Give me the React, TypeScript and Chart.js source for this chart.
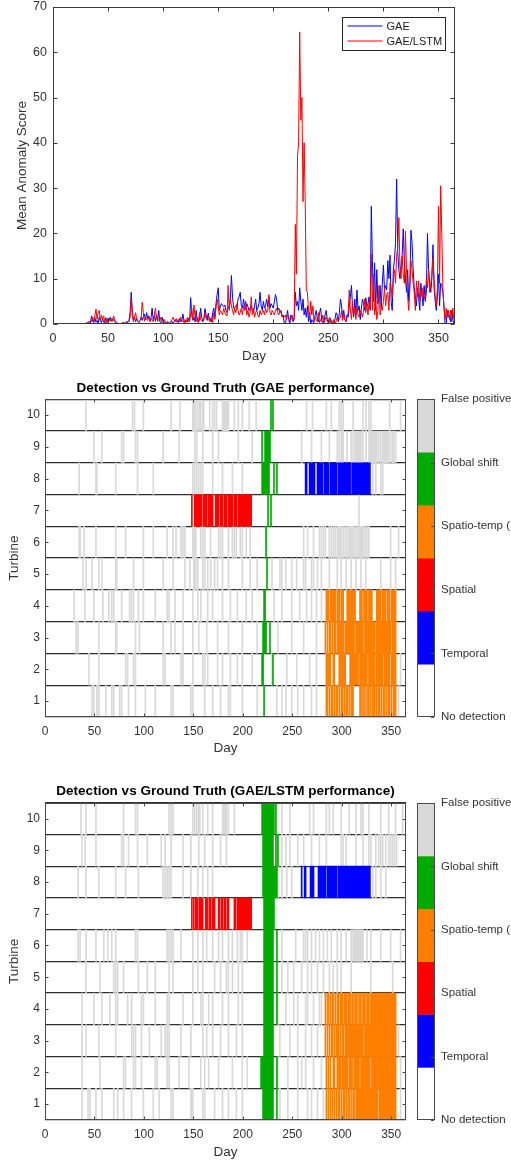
import React, { useEffect, useRef } from 'react';
import { Chart, registerables } from 'chart.js';

Chart.register(...registerables);

const FONT = '"Liberation Sans", Arial, Helvetica, sans-serif';
const TEXT = '#333333';
const FRAME = '#4a4a4a';

// ---------------- Top chart data ----------------
const scoreStartDay = 30;
const dayTicks = [0, 50, 100, 150, 200, 250, 300, 350];
const scoreTicks = [0, 10, 20, 30, 40, 50, 60, 70];
const seriesLabels = ['GAE', 'GAE/LSTM'];

const gaeScores = [
  0.3, 0.2, 0.4, 0.3, 0.2, 1.8, 0.6, 0.3, 1.4, 0.4,
  0.8, 0.2, 1.5, 0.6, 0.3, 1.2, 0.4, 0.2, 1.4, 0.3,
  1.3, 0.8, 1.5, 0.6, 1.2, 0.9, 0.5, 0.3, 0.2, 0.1,
  0, 0, 0.1, 0.2, 0.3, 0.2, 0.4, 0.5, 0.3, 0.8,
  2.5, 7.0, 3.2, 0.8, 1.5, 0.5, 1.2, 0.6, 0.4, 0.8,
  1.5, 0.8, 1.6, 2.2, 0.9, 2.5, 1.2, 1.8, 0.6, 1.4,
  3.5, 0.9, 1.8, 0.6, 2.0, 0.8, 3.0, 0.5, 0.3, 1.5,
  0.6, 0.4, 0.3, 0.2, 0.5, 0.3, 0.1, 0.4, 0.6, 0.2,
  0.5, 1.0, 0.4, 0.8, 0.3, 1.2, 0.5, 0.8, 2.2, 0.6,
  0.3, 0.8, 0.4, 1.3, 0.5, 5.8, 2.0, 0.8, 1.5, 0.5,
  3.0, 0.6, 0.4, 0.8, 3.5, 1.5, 0.5, 1.2, 3.4, 2.0,
  0.8, 2.4, 0.6, 1.2, 0.5, 2.5, 3.5, 1.5, 4.5, 6.5,
  8.0, 3.0, 4.0, 4.5, 4.0, 3.8, 4.2, 3.0, 2.5, 3.5,
  4.0, 5.5, 10.7, 6.0, 3.5, 3.8, 4.0, 3.5, 5.5, 6.0,
  7.0, 4.0, 3.5, 5.5, 4.0, 3.2, 4.5, 3.8, 3.0, 3.5,
  4.0, 3.0, 2.5, 4.0, 5.5, 3.0, 3.5, 4.5, 7.0, 4.0,
  3.0, 5.0, 3.5, 4.0, 5.5, 3.8, 6.0, 3.5, 4.5, 4.0,
  3.5, 5.0, 6.5, 5.5, 3.0, 3.5, 2.5, 3.0, 1.5, 2.0,
  0.0, 0.0, 1.5, 3.0, 1.0, 0.0, 2.0, 1.2, 0.5, 1.0,
  7.0, 4.0, 5.0, 3.0, 8.0, 5.0, 3.0, 5.5, 2.0, 3.5,
  1.5, 4.0, 0.5, 2.5, 0.0, 1.0, 0.5, 0.3, 2.0, 3.0,
  1.2, 0.5, 2.5, 3.5, 0.8, 0.3, 0.2, 2.0, 3.0, 1.0,
  0.2, 0.5, 1.2, 0.3, 0.5, 0.2, 1.0, 2.5, 2.0, 0.5,
  2.5, 5.5, 4.0, 1.5, 3.0, 1.0, 0.5, 2.0, 1.5, 4.0,
  6.0, 8.5, 3.5, 1.5, 5.5, 2.0, 7.5, 3.0, 4.0, 1.0,
  3.5, 5.5, 4.5, 3.0, 5.8, 4.0, 4.5, 6.0, 3.0, 26.0,
  14.0, 5.0, 13.5, 3.0, 12.0, 4.5, 6.0, 8.5, 3.5, 9.0,
  13.0, 7.5, 8.5, 7.5, 14.0, 10.0, 15.2, 5.0, 3.0, 12.0,
  14.0, 18.0, 32.0, 16.0, 12.0, 10.0, 13.0, 15.0, 21.0, 14.0,
  10.0, 7.0, 12.0, 5.0, 9.0, 20.7, 18.0, 12.0, 8.0, 6.0,
  4.0, 8.0, 6.0, 3.0, 9.0, 6.5, 4.0, 8.5, 5.0, 7.0,
  20.0, 12.0, 9.0, 7.0, 10.0, 17.5, 8.0, 5.0, 3.0, 6.0,
  11.0, 4.0, 9.0, 8.5, 7.0, 4.0, 0.0, 0.0, 3.0, 1.5,
  2.0, 0.5, 3.0, 1.0, 0.0, 0.5,
];

const lstmScores = [
  0.0, 0.2, 0.5, 0.3, 0.8, 0.6, 1.5, 0.5, 1.8, 3.3,
  1.0, 2.5, 3.0, 0.8, 2.0, 1.0, 1.8, 0.5, 0.3, 1.0,
  0.5, 0.8, 0.6, 1.2, 0.6, 1.8, 0.9, 0.5, 0.3, 0.1,
  0, 0, 0.1, 0.3, 0.4, 0.1, 0.2, 0.3, 0.6, 0.5,
  1.5, 5.5, 2.0, 0.5, 1.5, 2.5, 1.0, 0.6, 0.3, 0.8,
  1.2, 4.8, 2.5, 0.6, 1.5, 1.0, 0.8, 1.5, 0.5, 1.2,
  1.0, 0.5, 2.0, 3.5, 1.5, 0.6, 1.0, 0.8, 1.5, 0.5,
  0.3, 1.0, 0.4, 0.2, 0.6, 0.1, 0.3, 0.5, 1.0, 1.5,
  0.8, 0.5, 1.2, 0.4, 1.0, 0.6, 1.5, 0.5, 0.8, 0.3,
  1.0, 0.5, 1.5, 0.6, 0.8, 2.0, 3.5, 1.0, 4.2, 1.5,
  0.6, 1.5, 0.4, 2.5, 1.0, 0.8, 0.5, 1.0, 2.5, 1.2,
  1.5, 2.0, 0.8, 0.5, 1.5, 0.3, 2.5, 1.0, 3.5, 5.5,
  4.0, 2.0, 3.0, 2.5, 2.0, 3.5, 2.5, 2.0, 1.8, 8.5,
  3.0, 5.5, 4.0, 3.0, 2.0, 3.5, 2.5, 4.5, 3.0, 2.0,
  2.5, 3.5, 2.0, 4.0, 3.0, 5.0, 2.0, 3.0, 1.5, 2.5,
  6.0, 2.0, 3.5, 1.5, 2.5, 3.0, 2.0, 1.5, 3.0, 2.0,
  2.5, 3.0, 2.0, 3.5, 2.5, 3.0, 6.5, 2.5, 2.0, 3.0,
  2.5, 2.0, 3.0, 3.5, 2.5, 2.0, 3.0, 2.5, 2.0, 1.5,
  1.5, 2.0, 1.0, 2.0, 1.5, 0.5, 1.0, 2.0, 0.8, 1.5,
  22.0, 11.0, 37.0, 40.0, 64.5, 45.0, 50.0, 27.0, 40.0, 27.0,
  7.5, 7.0, 3.0, 1.0, 5.0, 2.0, 4.0, 0.5, 1.5, 1.0,
  0.5, 2.5, 0.3, 1.0, 0.5, 2.0, 0.2, 1.0, 1.5, 0.5,
  0.5, 1.5, 0.3, 0.8, 0.3, 1.0, 0.2, 0.5, 1.5, 0.8,
  1.0, 1.5, 3.0, 0.8, 2.0, 1.0, 0.5, 1.5, 2.5, 7.5,
  3.0, 1.0, 5.0, 2.0, 3.5, 1.0, 4.0, 2.0, 1.5, 3.0,
  2.5, 1.5, 3.0, 5.5, 2.5, 4.5, 2.0, 5.0, 3.5, 15.5,
  3.0, 11.0, 2.0, 5.0, 1.0, 3.0, 8.5, 2.0, 4.0, 3.0,
  5.0, 8.0, 4.0, 6.5, 7.0, 3.0, 9.0, 8.0, 6.0, 9.5,
  12.0, 9.0, 15.0, 17.0, 23.5, 13.0, 10.0, 15.0, 11.0, 9.0,
  20.5, 12.0, 6.0, 3.0, 8.0, 14.0, 12.0, 9.0, 7.0, 3.0,
  9.5, 6.0, 9.5, 5.0, 7.5, 6.0, 8.0, 5.5, 6.0, 10.0,
  8.0, 12.0, 7.0, 9.0, 11.0, 14.5, 10.0, 6.0, 4.0, 8.0,
  26.0, 9.0, 30.5, 20.0, 8.0, 3.5, 1.0, 3.5, 1.5, 3.0,
  1.0, 3.0, 0.5, 3.5, 1.0, 0.5,
];

// ---------------- Heatmap data ----------------
// Each row list is for turbine 1..10 (index 0 = turbine 1); entries are a day or [firstDay, lastDay].
type Span = number | [number, number];

const turbineLabels = ['10', '9', '8', '7', '6', '5', '4', '3', '2', '1'];
const categoryNames = ['No detection', 'Temporal', 'Spatial', 'Spatio-temp (ST)', 'Global shift', 'False positive'];
const categoryColors = ['#ffffff', '#0000ff', '#ff0000', '#ff8000', '#00aa00', '#d9d9d9'];

const gaeFalsePositive: Span[][] = [
  [48, 50, 53, 55, 62, 68, 70, 76, 78, 85, 92, 102, 112, 128, 130, 148, 150, 162, 170, 178, 186, 188, 200, 215, 235, 240, 244, 250, 256, 262, 270, 275, 358],
  [45, 55, 82, 84, 90, 92, 120, 122, 138, 140, 150, 160, 162, 165, 175, 180, 188, 195, 200, 210, 230, 245, 255, 268, 275, 360],
  [32, 34, 55, 72, 73, 92, 96, 120, 128, 132, 140, 150, 156, 164, 175, 186, 200, 215, 236, 250, 262, 275],
  [30, 41, 50, 59, 65, 68, 70, 78, 86, 88, 90, 95, 100, 112, 124, 126, 132, 140, 150, 155, 158, 165, 170, 180, 188, 195, 204, 210, 232, 240, 250, 258, 265, 270, 275, 280],
  [39, 42, 48, 55, 58, 72, 73, 90, 100, 120, 130, 142, 147, 151, 152, 153, 155, 160, 162, 165, 168, 172, 175, 180, 186, 200, 208, 215, 230, 238, 240, 244, 250, 255, 262, 264, 270, 272, 276, 280, 288, 296, 300, 305, 310, 315, 320, 325, 340, 350, 355],
  [35, 36, 40, 52, 72, 82, 100, 110, 124, 130, 133, 138, 140, 142, [150, 153], 158, 160, 162, 168, 176, 178, 180, 186, 190, 192, 194, 198, 200, 204, 208, 262, 266, 272, 278, 280, 282, 284, 288, 290, 292, 294, [296, 300], 302, 304, 306, [308, 312], 314, 316, [318, 322], 324, 326, 328, 350, 358],
  [318],
  [35, 52, 53, 72, 94, 110, 150, 152, 154, 156, 158, 160, 170, 180, 190, 200, 332, 335, 340, 342],
  [50, 58, 78, 80, 92, 94, 120, 136, 152, 154, 160, 170, 176, 196, 210, 260, 270, 280, 288, 296, 298, [300, 302], 306, 310, 312, [314, 320], 322, 325, [328, 336], 338, 340, [342, 348], 350, 352, 353, 355],
  [42, 89, 91, 100, 128, 137, [150, 153], 155, 157, 158, 160, 161, 167, 170, 172, 174, [180, 186], 192, 196, 200, 207, 214, 265, 271, 285, 290, 298, 300, 302, 312, 322, 325, 328, 330, 349, 360],
];
const gaeGlobalShift: Span[][] = [
  [222],
  [220, 221, 231],
  [[221, 224], 228],
  [222, 223],
  [225],
  [224],
  [226, 229],
  [[220, 227], 232, 235],
  [220, [223, 228]],
  [229, 231],
];
const gaeSpatioTemp: Span[][] = [
  [[285, 286], 288, [290, 291], 293, [295, 296], 298, [300, 301], 303, [305, 306], 308, [310, 312], [319, 320], [322, 323], 325, [327, 328], 330, [332, 334], 336, [338, 339], 341, [343, 344], 346, [348, 349], 351, [353, 355]],
  [[285, 289], [292, 293], [298, 304], [309, 317], [319, 326], [328, 334], [336, 342], [344, 349], [351, 355]],
  [284, 286, [288, 289], 291, [293, 294], [296, 302], [304, 313], [315, 322], [324, 334], [336, 350], [352, 355]],
  [[285, 287], [289, 294], [296, 298], [300, 302], [306, 314], [319, 321], [323, 326], [328, 331], [336, 340], [342, 345], [347, 349], [351, 355]],
  [], [], [], [], [], [],
];
const gaeSpatial: Span[][] = [
  [], [], [], [], [], [],
  [149, [152, 159], [161, 164], [166, 170], [173, 176], [178, 180], [182, 184], [186, 190], [192, 194], [196, 209]],
  [], [], [],
];
const gaeTemporal: Span[][] = [
  [], [], [], [], [], [], [],
  [[264, 265], [268, 273], [276, 281], [283, 287], [289, 295], [297, 309], [311, 329]],
  [], [],
];

const lstmFalsePositive: Span[][] = [
  [38, 44, 46, 52, 58, 70, 74, 80, 88, 100, 110, 116, 128, 130, 148, 149, 150, 160, 162, 172, 180, 186, 194, 200, 238, 246, 256, 266, 270, 276, 282, 360],
  [38, 56, 80, 82, 90, 92, 98, 112, 114, 124, 126, 136, 146, 158, 162, 166, 176, 190, 200, 205, 236, 246, 256, 260, 264, 272, 280, 360],
  [38, 42, 55, 72, 88, 90, 92, 98, 106, 118, 122, 124, 126, 138, 148, 160, 164, 170, 178, 186, 194, 200, 238, 248, 256, 264, 270, 276, 358],
  [38, 50, 58, 66, 72, 74, 84, 88, 98, 100, 112, 124, 126, 140, 150, 158, 160, 166, 170, 180, 186, 196, 200, 236, 244, 252, 256, 264, 266, 272, 278, 280],
  [42, 56, 70, 72, 74, 80, 95, 104, 112, 126, 130, 150, 155, 160, 172, 178, 184, 186, 190, 196, 200, 240, 246, 252, 260, 266, 270, 276, 282, 288, 292, 296, 300, 310, 330, 352],
  [34, 36, 42, 52, 60, 64, 68, 72, 92, 94, 124, 126, 128, 130, 138, 150, 155, 160, 164, 170, 176, 180, 186, 190, 195, 198, 200, 205, 240, 254, 262, 264, 266, 270, 274, 278, 282, 286, 290, 296, 300, 305, 310, [312, 322], 326, 330, 340, 350, 360],
  [],
  [34, 42, 55, 72, 82, 95, 120, 122, 124, 126, 128, 140, 148, 155, 160, 165, 170, 236, 240, 245, 250, 332, 335, 340, 345],
  [38, 41, 52, 78, 80, 85, 94, 104, 118, 122, 128, 140, 148, 156, 162, 170, 178, 184, 236, 240, 244, 248, 256, 262, 270, 278, 285, 300, 302, 305, 315, 322, 328, 330, 335, 338, 340, 342, 345, 348, 350, 352, 354, 356],
  [37, 42, 52, 80, 92, 94, 126, 128, 130, 150, 152, 154, 156, 157, 160, 165, 170, [180, 184], 186, 192, 240, 248, 268, 272, 285, 288, 292, 300, 308, 315, 320, 322, 328, 340, 348, 355, 362],
];
const lstmGlobalShift: Span[][] = [
  [[221, 231], 235],
  [219, 220, [221, 231], 235],
  [[222, 231]],
  [[222, 231], 235],
  [[222, 231], 235],
  [[222, 231], 235],
  [[222, 232]],
  [[221, 235]],
  [[221, 231], 234, 236],
  [[220, 232], 234],
];
const lstmSpatioTemp: Span[][] = [
  [285, 287, 289, 291, 293, 295, [297, 298], 300, [302, 303], 305, [307, 308], 310, [312, 313], [315, 337], [339, 355]],
  [285, 287, 289, [292, 293], [296, 299], [301, 306], [308, 311], [313, 318], [320, 329], [331, 355]],
  [284, 286, 288, [290, 291], 293, [295, 297], 299, [301, 302], [304, 322], [324, 355]],
  [284, [286, 287], 289, [291, 292], 294, [296, 297], [299, 301], [303, 305], [307, 309], [311, 312], [314, 316], [318, 320], [322, 324], [326, 328], [330, 355]],
  [], [], [], [], [], [],
];
const lstmSpatial: Span[][] = [
  [], [], [], [], [], [],
  [149, 151, [153, 155], [157, 160], [163, 165], [167, 168], [170, 172], [176, 177], [179, 180], [182, 183], [185, 186], [192, 193], [195, 209]],
  [], [], [],
];
const lstmTemporal: Span[][] = [
  [], [], [], [], [], [], [],
  [260, [263, 264], [269, 272], [277, 284], [286, 295], [297, 329]],
  [], [],
];

// ---------------- helpers ----------------
function toBars(rows: Span[][]) {
  const out: { x: [number, number]; y: string }[] = [];
  rows.forEach((row, i) => {
    const turbine = String(i + 1);
    row.forEach((s) => {
      const [a, b] = Array.isArray(s) ? s : [s, s];
      out.push({ x: [a - 1, b], y: turbine });
    });
  });
  return out;
}

const framePlugin = {
  id: 'frame',
  afterDraw(chart: any, _args: any, opts: any) {
    const { ctx, chartArea: a, scales } = chart;
    const L = opts.tickLen ?? 4;
    const l = Math.round(a.left) + 0.5;
    const r = Math.round(a.right) - 0.5;
    const t = Math.round(a.top) + 0.5;
    const b = Math.round(a.bottom) - 0.5;
    ctx.save();
    ctx.strokeStyle = opts.color || FRAME;
    ctx.lineWidth = 1;
    ctx.beginPath();
    scales.x.ticks.forEach((tk: any) => {
      const px = Math.round(scales.x.getPixelForValue(tk.value)) + 0.5;
      ctx.moveTo(px, b); ctx.lineTo(px, b - L);
      ctx.moveTo(px, t); ctx.lineTo(px, t + L);
    });
    scales.y.ticks.forEach((_tk: any, i: number) => {
      const py = Math.round(scales.y.getPixelForTick(i)) + 0.5;
      ctx.moveTo(l, py); ctx.lineTo(l + L, py);
      ctx.moveTo(r, py); ctx.lineTo(r - L, py);
    });
    ctx.stroke();
    ctx.strokeRect(l, t, r - l, b - t);
    ctx.restore();
  },
};

const lineLegendPlugin = {
  id: 'lineLegend',
  afterDraw(chart: any) {
    const { ctx, chartArea: a } = chart;
    const w = 103, h = 33;
    const x = Math.round(a.right - 10 - w) + 0.5;
    const y = Math.round(a.top + 10) + 0.5;
    ctx.save();
    ctx.fillStyle = '#ffffff';
    ctx.fillRect(x, y, w, h);
    ctx.strokeStyle = '#262626';
    ctx.lineWidth = 1;
    ctx.strokeRect(x, y, w, h);
    chart.data.datasets.forEach((ds: any, i: number) => {
      const ly = Math.round(y + 8.5 + i * 15.3);
      ctx.strokeStyle = ds.borderColor;
      ctx.beginPath();
      ctx.moveTo(x + 5, ly);
      ctx.lineTo(x + 40, ly);
      ctx.stroke();
      ctx.fillStyle = '#1a1a1a';
      ctx.font = `11px ${FONT}`;
      ctx.textBaseline = 'middle';
      ctx.textAlign = 'left';
      ctx.fillText(ds.label, x + 44, ly + 0.5);
    });
    ctx.restore();
  },
};

const colorbarPlugin = {
  id: 'colorbar',
  afterDraw(chart: any, _args: any, opts: any) {
    const { ctx, chartArea: a } = chart;
    const colors: string[] = opts.colors;
    const names: string[] = opts.names;
    const x0 = Math.round(a.right + 11);
    const w = 18;
    const top = Math.round(a.top);
    const bottom = Math.round(a.bottom);
    const n = colors.length;
    const h = (bottom - top) / n;
    ctx.save();
    colors.forEach((c, i) => {
      ctx.fillStyle = c;
      ctx.fillRect(x0, bottom - (i + 1) * h, w, h + 0.5);
    });
    ctx.strokeStyle = FRAME;
    ctx.lineWidth = 1;
    ctx.strokeRect(x0 + 0.5, top + 0.5, w - 1, bottom - top - 1);
    ctx.font = `11.5px ${FONT}`;
    ctx.fillStyle = TEXT;
    ctx.textAlign = 'left';
    ctx.textBaseline = 'middle';
    ctx.beginPath();
    names.forEach((name, i) => {
      const y = bottom - (i * (bottom - top)) / (names.length - 1);
      ctx.fillText(name, x0 + w + 6, y);
      const yy = Math.round(y) + 0.5;
      ctx.moveTo(x0 + w - 1, yy);
      ctx.lineTo(x0 + w - 4, yy);
    });
    ctx.stroke();
    ctx.restore();
  },
};

// ---------------- configs ----------------
function lineConfig(): any {
  const mk = (vals: number[]) => vals.map((v, i) => ({ x: scoreStartDay + i, y: v }));
  return {
    type: 'line',
    data: {
      datasets: [
        { label: seriesLabels[0], data: mk(gaeScores), borderColor: '#0000ff', borderWidth: 1, pointRadius: 0, order: 1 },
        { label: seriesLabels[1], data: mk(lstmScores), borderColor: '#ff0000', borderWidth: 1, pointRadius: 0, order: 0 },
      ],
    },
    options: {
      animation: false,
      responsive: false,
      events: [],
      layout: { padding: { left: 0, right: 56, top: 0, bottom: 0 } },
      plugins: {
        legend: { display: false },
        tooltip: { enabled: false },
        frame: { color: '#3a3a3a', tickLen: 4 },
      },
      scales: {
        x: {
          type: 'linear', min: 0, max: 365,
          afterBuildTicks: (s: any) => { s.ticks = dayTicks.map((v) => ({ value: v })); },
          ticks: { font: { family: FONT, size: 12.5 }, color: TEXT, padding: 7, maxRotation: 0 },
          grid: { display: false, drawTicks: false },
          border: { display: false },
          title: { display: true, text: 'Day', font: { family: FONT, size: 13.5 }, color: TEXT, padding: { top: 0, bottom: 6 } },
          afterFit: (s: any) => { s.height = 46; s.paddingTop = 0; },
        },
        y: {
          min: 0, max: 70,
          afterBuildTicks: (s: any) => { s.ticks = scoreTicks.map((v) => ({ value: v })); },
          ticks: { font: { family: FONT, size: 12.5 }, color: TEXT, padding: 6 },
          grid: { display: false, drawTicks: false },
          border: { display: false },
          title: { display: true, text: 'Mean Anomaly Score', font: { family: FONT, size: 13.5 }, color: TEXT, padding: { top: 14, bottom: 0 } },
          afterFit: (s: any) => { s.width = 53; s.paddingTop = 7; s.paddingBottom = 0; },
        },
      },
    },
    plugins: [framePlugin, lineLegendPlugin],
  };
}

function heatmapConfig(
  title: string,
  rowsByCat: Span[][][],
  layoutOpts: { titleTop: number; titleBottom: number; xHeight: number; dayBottom: number },
): any {
  // rowsByCat follows categoryNames order from index 1 (Temporal..False positive)
  const datasets = rowsByCat
    .map((rows, k) => ({
      label: categoryNames[k + 1],
      data: toBars(rows),
      backgroundColor: categoryColors[k + 1],
      borderWidth: 0,
      borderSkipped: false,
      grouped: false,
      barPercentage: 1,
      categoryPercentage: 1,
      order: k === 4 ? 10 : k,
    }));
  return {
    type: 'bar',
    data: { labels: turbineLabels, datasets },
    options: {
      indexAxis: 'y',
      animation: false,
      responsive: false,
      events: [],
      layout: { padding: { left: 0, right: 105, top: 0, bottom: 0 } },
      plugins: {
        legend: { display: false },
        tooltip: { enabled: false },
        title: {
          display: true, text: title, fullSize: false, color: '#000000',
          font: { family: FONT, size: 13.5, weight: 'bold' },
          padding: { top: layoutOpts.titleTop, bottom: layoutOpts.titleBottom },
        },
        frame: { color: FRAME, tickLen: 3 },
        colorbar: { colors: categoryColors, names: categoryNames },
      },
      scales: {
        x: {
          type: 'linear', min: 0, max: 365,
          afterBuildTicks: (s: any) => { s.ticks = dayTicks.map((v) => ({ value: v })); },
          ticks: { font: { family: FONT, size: 12 }, color: TEXT, padding: 7, maxRotation: 0 },
          grid: { display: false, drawTicks: false },
          border: { display: false },
          title: { display: true, text: 'Day', font: { family: FONT, size: 13.5 }, color: TEXT, padding: { top: 0, bottom: layoutOpts.dayBottom } },
          afterFit: (s: any) => { s.height = layoutOpts.xHeight; },
        },
        y: {
          type: 'category', labels: turbineLabels, offset: true, z: 1,
          ticks: { font: { family: FONT, size: 12 }, color: TEXT, padding: 5 },
          grid: { offset: true, color: '#2e2e2e', lineWidth: 1.3, drawTicks: false },
          border: { display: false },
          title: { display: true, text: 'Turbine', font: { family: FONT, size: 13.5 }, color: TEXT, padding: { top: 6, bottom: 0 } },
          afterFit: (s: any) => { s.width = 45; },
        },
      },
    },
    plugins: [framePlugin, colorbarPlugin],
  };
}

function ChartCanvas({ makeConfig, top, height }: { makeConfig: () => any; top: number; height: number }) {
  const ref = useRef<HTMLCanvasElement>(null);
  useEffect(() => {
    const chart = new Chart(ref.current as HTMLCanvasElement, makeConfig());
    return () => chart.destroy();
  }, []);
  return (
    <canvas
      ref={ref}
      width={511}
      height={height}
      style={{ position: 'absolute', left: 0, top, width: 511, height, display: 'block' }}
    />
  );
}

export default function App() {
  return (
    <div style={{ position: 'absolute', left: 0, top: 0, width: 511, height: 1160, background: '#ffffff', overflow: 'hidden' }}>
      <ChartCanvas makeConfig={lineConfig} top={0} height={370} />
      <ChartCanvas
        makeConfig={() =>
          heatmapConfig(
            'Detection vs Ground Truth (GAE performance)',
            [gaeTemporal, gaeSpatial, gaeSpatioTemp, gaeGlobalShift, gaeFalsePositive],
            { titleTop: 5, titleBottom: 3, xHeight: 48, dayBottom: 9 },
          )
        }
        top={375}
        height={390}
      />
      <ChartCanvas
        makeConfig={() =>
          heatmapConfig(
            'Detection vs Ground Truth (GAE/LSTM performance)',
            [lstmTemporal, lstmSpatial, lstmSpatioTemp, lstmGlobalShift, lstmFalsePositive],
            { titleTop: 3.5, titleBottom: 3, xHeight: 40, dayBottom: 0 },
          )
        }
        top={780}
        height={380}
      />
    </div>
  );
}
